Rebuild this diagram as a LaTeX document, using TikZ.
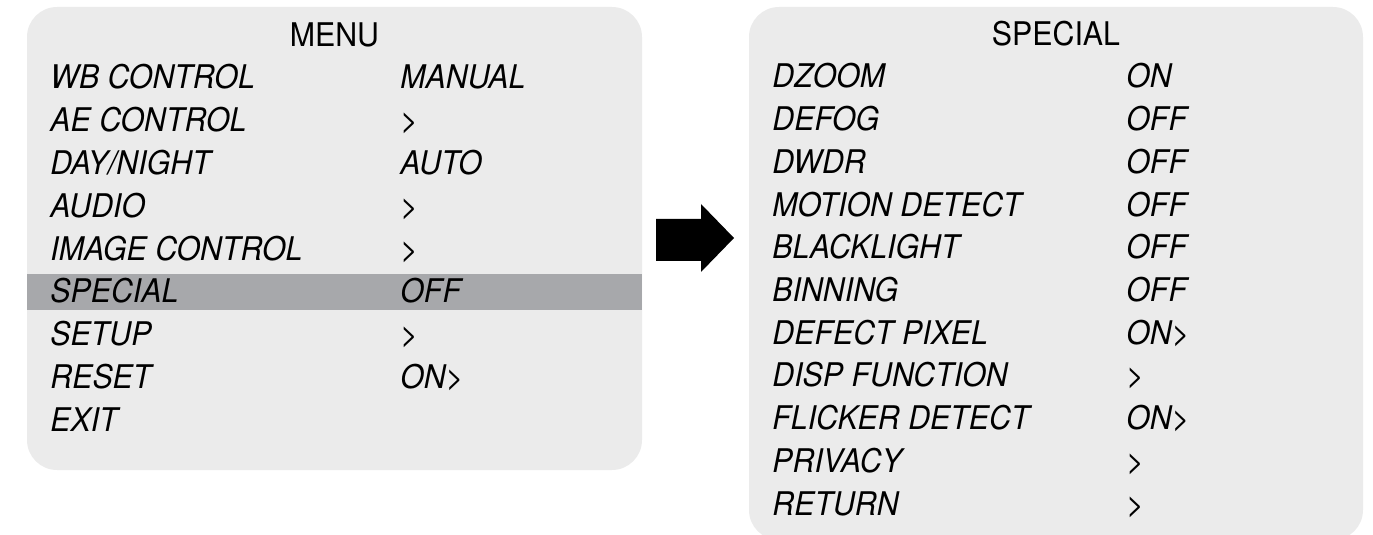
\documentclass[tikz,border=0pt]{standalone}
\usepackage{fontspec}
\setmainfont{TeX Gyre Heros}[FakeStretch=0.93]
\usepackage{tikz}

\definecolor{panelgray}{RGB}{235,235,235}
\definecolor{selgray}{RGB}{167,168,171}

\begin{document}
\begin{tikzpicture}[x=0.5pt, y=-0.5pt,
        panel/.style={fill=panelgray, rounded corners=15pt},
        title/.style={anchor=base, inner sep=0pt, font=\fontsize{16.3}{19}\selectfont},
        item/.style={anchor=base west, inner sep=0pt, font=\fontsize{16.3}{19}\selectfont\itshape}]
        \useasboundingbox (0, 0) rectangle (1373, 535);
        \fill [panel] (27, 7) rectangle (642, 470);
        \fill [selgray] (27, 274) rectangle (642, 310);
        \node [title] (menu) at (334.5, 47) {MENU};
        \foreach \name/\val [count=\i from 0] in {WB CONTROL/MANUAL, AE CONTROL/>, {DAY/NIGHT}/AUTO, AUDIO/>, IMAGE CONTROL/>, SPECIAL/OFF, SETUP/>, RESET/ON>, EXIT/{}}
        {
            \node [item] (menu-\i) at (50, 88.5+42.9*\i) {\name};
            \node [item] (menuval-\i) at (400, 88.5+42.9*\i) {\val};
        }
        \fill (656, 219) -- (701, 219) -- (701, 204) -- (734, 238) -- (701, 272) -- (701, 261) -- (656, 261) -- cycle;
        \fill [panel] (749, 7) rectangle (1363, 540);
        \node [title] (special) at (1056, 46) {SPECIAL};
        \foreach \name/\val [count=\i from 0] in {DZOOM/ON, DEFOG/OFF, DWDR/OFF, MOTION DETECT/OFF, BLACKLIGHT/OFF, BINNING/OFF, DEFECT PIXEL/ON>, DISP FUNCTION/>, FLICKER DETECT/ON>, PRIVACY/>, RETURN/>}
        {
            \node [item] (special-\i) at (772, 88+42.7*\i) {\name};
            \node [item] (specialval-\i) at (1126, 88+42.7*\i) {\val};
        }
    \end{tikzpicture}
\end{document}
